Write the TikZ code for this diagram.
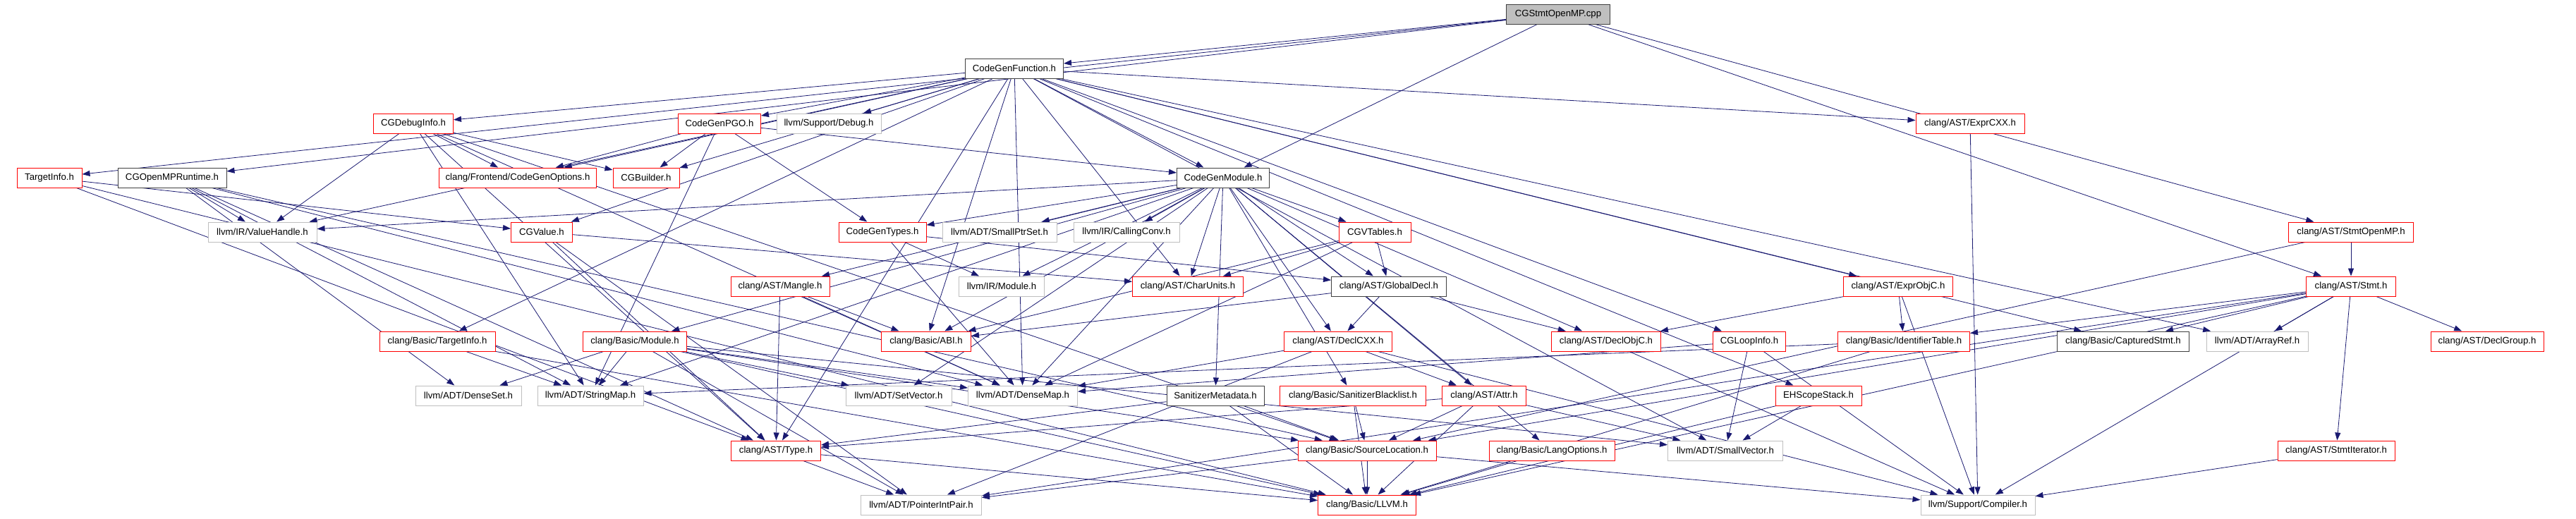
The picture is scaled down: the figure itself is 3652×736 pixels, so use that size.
\documentclass[tikz,border=0pt]{standalone}
\usepackage{fontspec}
\setmainfont{Liberation Sans}
\usetikzlibrary{arrows.meta}
\definecolor{edgec}{HTML}{191970}
\definecolor{redb}{HTML}{FF0000}
\definecolor{grayb}{HTML}{BFBFBF}
\definecolor{blkb}{HTML}{404040}
\pgfdeclarelayer{bg}
\pgfsetlayers{bg,main}
\begin{document}
\begin{tikzpicture}[x=1pt,y=-1pt,
 box/.style={draw, line width=1pt, fill=white, minimum height=28pt, inner xsep=2pt, inner ysep=0pt, font=\fontsize{13.2}{15}\selectfont, text=black, anchor=center},
 redbox/.style={box, draw=redb},
 blkbox/.style={box, draw=blkb},
 grybox/.style={box, draw=grayb},
 rootbox/.style={box, draw=blkb, fill=grayb},
 edge/.style={draw=edgec, line width=0.8pt, -{Triangle[length=11pt,width=8pt]}}]
\useasboundingbox (0,0) rectangle (3652,736);
% row 0
\node[rootbox, minimum width=147pt] (root) at (2209,20) {CGStmtOpenMP.cpp};
% row 1
\node[blkbox, minimum width=139pt] (cgf) at (1438,97) {CodeGenFunction.h};
% row 2
\node[redbox, minimum width=113pt] (dbg) at (586,175) {CGDebugInfo.h};
\node[redbox, minimum width=117pt] (pgo) at (1020,175) {CodeGenPGO.h};
\node[grybox, minimum width=148pt] (debug) at (1175,175) {llvm/Support/Debug.h};
\node[redbox, minimum width=154pt] (excxx) at (2793,175) {clang/AST/ExprCXX.h};
% row 3
\node[redbox, minimum width=92pt] (ti) at (70,252) {TargetInfo.h};
\node[blkbox, minimum width=154pt] (omp) at (244,252) {CGOpenMPRuntime.h};
\node[redbox, minimum width=223pt] (cgo) at (734,252) {clang/Frontend/CodeGenOptions.h};
\node[redbox, minimum width=94pt] (cgb) at (916,252) {CGBuilder.h};
\node[blkbox, minimum width=131pt] (cgm) at (1734,252) {CodeGenModule.h};
% row 4
\node[grybox, minimum width=154pt] (vh) at (372,329) {llvm/IR/ValueHandle.h};
\node[redbox, minimum width=87pt] (cgv) at (768,329) {CGValue.h};
\node[redbox, minimum width=124pt] (cgt) at (1251,329) {CodeGenTypes.h};
\node[grybox, minimum width=162pt] (sps) at (1417,329) {llvm/ADT/SmallPtrSet.h};
\node[grybox, minimum width=150pt] (cc) at (1597,329) {llvm/IR/CallingConv.h};
\node[redbox, minimum width=102pt] (vt) at (1949,329) {CGVTables.h};
\node[redbox, minimum width=177pt] (somp) at (3333,329) {clang/AST/StmtOpenMP.h};
% row 5
\node[redbox, minimum width=140pt] (mangle) at (1106,406) {clang/AST/Mangle.h};
\node[grybox, minimum width=121pt] (irmod) at (1420,406) {llvm/IR/Module.h};
\node[redbox, minimum width=157pt] (cu) at (1684,406) {clang/AST/CharUnits.h};
\node[blkbox, minimum width=163pt] (gd) at (1969,406) {clang/AST/GlobalDecl.h};
\node[redbox, minimum width=155pt] (eobjc) at (2691,406) {clang/AST/ExprObjC.h};
\node[redbox, minimum width=127pt] (stmt) at (3333,406) {clang/AST/Stmt.h};
% row 6
\node[redbox, minimum width=164pt] (bti) at (620,484) {clang/Basic/TargetInfo.h};
\node[redbox, minimum width=147pt] (bmod) at (900,484) {clang/Basic/Module.h};
\node[redbox, minimum width=127pt] (abi) at (1313,484) {clang/Basic/ABI.h};
\node[redbox, minimum width=153pt] (dcxx) at (1897,484) {clang/AST/DeclCXX.h};
\node[redbox, minimum width=155pt] (dobjc) at (2277,484) {clang/AST/DeclObjC.h};
\node[redbox, minimum width=103pt] (loop) at (2480,484) {CGLoopInfo.h};
\node[redbox, minimum width=187pt] (ident) at (2699,484) {clang/Basic/IdentifierTable.h};
\node[blkbox, minimum width=187pt] (cap) at (3010,484) {clang/Basic/CapturedStmt.h};
\node[grybox, minimum width=144pt] (aref) at (3200,484) {llvm/ADT/ArrayRef.h};
\node[redbox, minimum width=160pt] (dgrp) at (3526,484) {clang/AST/DeclGroup.h};
% row 7
\node[grybox, minimum width=150pt] (dset) at (664,561) {llvm/ADT/DenseSet.h};
\node[grybox, minimum width=150pt] (smap) at (837,561) {llvm/ADT/StringMap.h};
\node[grybox, minimum width=150pt] (svec) at (1274,561) {llvm/ADT/SetVector.h};
\node[grybox, minimum width=155pt] (dmap) at (1450,561) {llvm/ADT/DenseMap.h};
\node[blkbox, minimum width=138pt] (smd) at (1723,561) {SanitizerMetadata.h};
\node[redbox, minimum width=207pt] (sbl) at (1918,561) {clang/Basic/SanitizerBlacklist.h};
\node[redbox, minimum width=119pt] (attr) at (2104,561) {clang/AST/Attr.h};
\node[redbox, minimum width=122pt] (ehss) at (2578,561) {EHScopeStack.h};
% row 8
\node[redbox, minimum width=127pt] (type) at (1100,639) {clang/AST/Type.h};
\node[redbox, minimum width=196pt] (sloc) at (1938,639) {clang/Basic/SourceLocation.h};
\node[redbox, minimum width=178pt] (lang) at (2200,639) {clang/Basic/LangOptions.h};
\node[grybox, minimum width=163pt] (smallv) at (2446,639) {llvm/ADT/SmallVector.h};
\node[redbox, minimum width=166pt] (siter) at (3312,639) {clang/AST/StmtIterator.h};
% row 9
\node[grybox, minimum width=171pt] (pip) at (1306,716) {llvm/ADT/PointerIntPair.h};
\node[redbox, minimum width=139pt] (llvm) at (1938,716) {clang/Basic/LLVM.h};
\node[grybox, minimum width=162pt] (comp) at (2804,716) {llvm/Support/Compiler.h};
\begin{pgfonlayer}{bg}
\foreach \a/\b in {root/cgf, root/ti, root/omp, root/cgm, root/somp, root/stmt,
 cgf/debug, cgf/pgo, cgf/dbg, cgf/cgo, cgf/cgb, cgf/cgv, cgf/vh, cgf/bti, cgf/cgm, cgf/excxx, cgf/eobjc, cgf/loop, cgf/ehss, cgf/cap, cgf/aref, cgf/smallv, cgf/cu, cgf/abi, cgf/dmap, cgf/type,
 dbg/cgo, dbg/cgb, dbg/vh, dbg/type, dbg/sloc, dbg/dmap, dbg/smap,
 omp/vh, omp/dset, omp/smap, omp/type, omp/sloc, omp/dmap,
 ti/cgv, ti/type, ti/llvm,
 pgo/cgo, pgo/cgb, pgo/cgt, pgo/cgm, pgo/smap,
 cgv/cu, cgv/type, cgv/pip,
 cgm/cgt, cgm/sps, cgm/cc, cgm/vt, cgm/mangle, cgm/irmod, cgm/cu, cgm/gd, cgm/bmod, cgm/abi, cgm/dcxx, cgm/dobjc, cgm/svec, cgm/dmap, cgm/smd, cgm/sbl, cgm/attr, cgm/lang, cgm/vh, cgm/smap,
 cgt/irmod, cgt/gd, cgt/dmap,
 vt/gd, vt/abi, vt/dmap, vt/cu,
 mangle/type, mangle/abi, mangle/dmap,
 gd/dcxx, gd/dobjc, gd/abi,
 eobjc/dobjc, eobjc/ident, eobjc/comp,
 excxx/comp,
 dcxx/attr, dcxx/dmap, dcxx/pip, dcxx/comp,
 dobjc/comp,
 loop/dmap, loop/smallv, loop/comp,
 ident/smap, ident/llvm,
 stmt/cap, stmt/aref, stmt/dgrp, stmt/siter, stmt/ident, stmt/sloc, stmt/llvm, stmt/pip, stmt/comp,
 somp/stmt, somp/sloc,
 bti/smap, bti/llvm,
 bmod/dset, bmod/smap, bmod/svec, bmod/dmap, bmod/sloc, bmod/smallv, bmod/pip, bmod/llvm,
 smd/type, smd/sloc, smd/llvm,
 sbl/sloc, sbl/llvm,
 attr/sloc, attr/llvm, attr/smallv, attr/type,
 ehss/smallv, ehss/llvm,
 lang/llvm,
 sloc/llvm, sloc/comp, sloc/pip,
 type/llvm, type/pip,
 siter/comp}
 \draw[edge] (\a) -- (\b);
\end{pgfonlayer}
\end{tikzpicture}
\end{document}
